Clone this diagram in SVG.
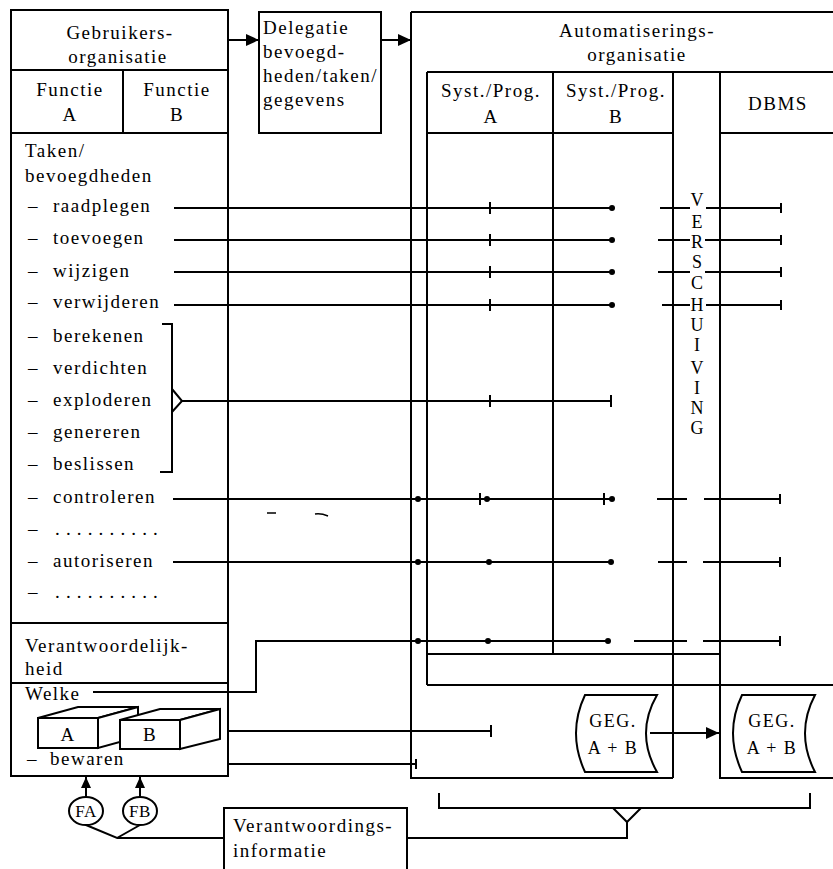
<svg xmlns="http://www.w3.org/2000/svg" width="833" height="869" viewBox="0 0 833 869">
<defs>
<style>
.ln{stroke:#000;stroke-width:2;fill:none}
.bx{stroke:#000;stroke-width:2;fill:#fff}
.t{font-family:"Liberation Serif",serif;font-size:19px;letter-spacing:1.5px;fill:#000}
.c{text-anchor:middle}
.dt{fill:#000}
.vs{font-family:"Liberation Serif",serif;font-size:18px;fill:#000;text-anchor:middle}
</style>
<marker id="ah" markerUnits="userSpaceOnUse" markerWidth="14" markerHeight="12" refX="13" refY="6" orient="auto">
<path d="M0,0 L13,6 L0,12 z" fill="#000"/>
</marker>
<marker id="ahs" markerUnits="userSpaceOnUse" markerWidth="12" markerHeight="10" refX="11" refY="5" orient="auto">
<path d="M0,0 L11,5 L0,10 z" fill="#000"/>
</marker>
</defs>
<rect width="833" height="869" fill="#fff"/>

<g id="gebruikers">
<rect class="bx" x="11" y="10" width="217" height="766"/>
<path class="ln" d="M11,70 H228 M11,133 H228 M123,70 V133 M11,623 H228 M11,683 H228"/>
<text class="t c" x="120" y="39">Gebruikers-</text>
<text class="t c" x="118" y="63">organisatie</text>
<text class="t c" x="70" y="96">Functie</text>
<text class="t c" x="70" y="121">A</text>
<text class="t c" x="177" y="96">Functie</text>
<text class="t c" x="177" y="121">B</text>
<text class="t" x="25" y="157">Taken/</text>
<text class="t" x="25" y="182">bevoegdheden</text>
<text class="t" x="28" y="212">–<tspan x="53">raadplegen</tspan></text>
<text class="t" x="28" y="244">–<tspan x="53">toevoegen</tspan></text>
<text class="t" x="28" y="277">–<tspan x="53">wijzigen</tspan></text>
<text class="t" x="28" y="308">–<tspan x="53">verwijderen</tspan></text>
<text class="t" x="28" y="342">–<tspan x="53">berekenen</tspan></text>
<text class="t" x="28" y="374">–<tspan x="53">verdichten</tspan></text>
<text class="t" x="28" y="406">–<tspan x="53">exploderen</tspan></text>
<text class="t" x="28" y="438">–<tspan x="53">genereren</tspan></text>
<text class="t" x="28" y="470">–<tspan x="53">beslissen</tspan></text>
<text class="t" x="28" y="503">–<tspan x="53">controleren</tspan></text>
<text class="t" x="28" y="535">–<tspan x="55" style="letter-spacing:0.7px">. . . . . . . . . .</tspan></text>
<text class="t" x="28" y="567">–<tspan x="53">autoriseren</tspan></text>
<text class="t" x="28" y="598">–<tspan x="55" style="letter-spacing:0.7px">. . . . . . . . . .</tspan></text>
<text class="t" x="25" y="652">Verantwoordelijk-</text>
<text class="t" x="25" y="675">heid</text>
<text class="t" x="25" y="700">Welke</text>
<text class="t" x="27" y="765">–<tspan x="50">bewaren</tspan></text>
</g>

<g id="boxA">
<polygon class="bx" points="38,718 78,707 138,707 98,718"/>
<polygon class="bx" points="98,718 138,707 138,737 98,748"/>
<rect class="bx" x="38" y="718" width="60" height="30"/>
<text class="t c" x="68" y="741">A</text>
</g>
<g id="boxB">
<polygon class="bx" points="120,720 160,709 220,709 180,720"/>
<polygon class="bx" points="180,720 220,709 220,739 180,749"/>
<rect class="bx" x="120" y="720" width="60" height="29"/>
<text class="t c" x="150" y="741">B</text>
</g>

<g id="delegatie">
<rect class="bx" x="259" y="12" width="122" height="121"/>
<text class="t" x="263" y="34">Delegatie</text>
<text class="t" x="263" y="58">bevoegd-</text>
<text class="t" x="263" y="82">heden/taken/</text>
<text class="t" x="263" y="106">gegevens</text>
</g>

<g id="automatisering">
<path class="ln" d="M411,12 H833 M411,12 V778 H673 M427,72 H833 M427,72 V685 M427,133 H673 M553,72 V654 M673,72 V778 M427,654 H720 M427,685 H833"/>
<text class="t c" x="637" y="37">Automatiserings-</text>
<text class="t c" x="637" y="61">organisatie</text>
<text class="t c" x="491" y="97">Syst./Prog.</text>
<text class="t c" x="491" y="123">A</text>
<text class="t c" x="616" y="97">Syst./Prog.</text>
<text class="t c" x="616" y="123">B</text>
</g>

<g id="verschuiving">
<text class="vs" x="697" y="206">V</text>
<text class="vs" x="697" y="228">E</text>
<text class="vs" x="697" y="248">R</text>
<text class="vs" x="697" y="268">S</text>
<text class="vs" x="697" y="289">C</text>
<text class="vs" x="697" y="311">H</text>
<text class="vs" x="697" y="331">U</text>
<text class="vs" x="697" y="351">I</text>
<text class="vs" x="697" y="374">V</text>
<text class="vs" x="697" y="394">I</text>
<text class="vs" x="697" y="414">N</text>
<text class="vs" x="697" y="434">G</text>
</g>

<g id="dbms">
<path class="ln" d="M720,72 V778 H833 M720,133 H833"/>
<text class="t c" x="778" y="110">DBMS</text>
</g>

<g id="geg-left">
<path class="bx" d="M585,695 H657 Q635,733 657,772 H585 Q567,733 585,695 Z"/>
<text class="t c" x="613" y="727" style="font-size:18px">GEG.</text>
<text class="t c" x="613" y="754" style="font-size:18px">A + B</text>
</g>
<g id="geg-right">
<path class="bx" d="M742,695 H815 Q795,733 815,772 H742 Q724,733 742,695 Z"/>
<text class="t c" x="772" y="727" style="font-size:18px">GEG.</text>
<text class="t c" x="772" y="754" style="font-size:18px">A + B</text>
</g>

<g id="verantwoordings">
<path class="bx" d="M224,869 V808 H407 V869"/>
<text class="t" x="233" y="832">Verantwoordings-</text>
<text class="t" x="233" y="857">informatie</text>
</g>

<g id="fa">
<ellipse class="bx" cx="86" cy="811" rx="17" ry="14"/>
<text class="t c" x="86" y="817" style="font-size:17px;letter-spacing:0.5px">FA</text>
</g>
<g id="fb">
<ellipse class="bx" cx="140" cy="811" rx="17" ry="14"/>
<text class="t c" x="140" y="817" style="font-size:17px;letter-spacing:0.5px">FB</text>
</g>

<g id="connectors">
<path class="ln" d="M229,40 H259" marker-end="url(#ah)"/>
<path class="ln" d="M381,40 H411" marker-end="url(#ah)"/>
<path class="ln" d="M650,733 H719" marker-end="url(#ah)"/>
<path class="ln" d="M86,797 V777" marker-end="url(#ahs)"/>
<path class="ln" d="M140,797 V777" marker-end="url(#ahs)"/>

<path class="ln" d="M174,208 H612 M490,202 V214 M660,208 H690 M706,208 H781 M781,203 V213"/>
<path class="ln" d="M174,240 H612 M490,234 V246 M658,240 H690 M705,240 H781 M781,235 V245"/>
<path class="ln" d="M174,272 H612 M490,266 V278 M658,272 H690 M705,272 H781 M781,267 V277"/>
<path class="ln" d="M174,305 H612 M490,299 V311 M662,305 H690 M706,305 H781 M781,300 V310"/>
<circle class="dt" cx="612" cy="208" r="3"/>
<circle class="dt" cx="612" cy="240" r="3"/>
<circle class="dt" cx="612" cy="272" r="3"/>
<circle class="dt" cx="612" cy="305" r="3"/>

<path class="ln" d="M162,324 H172 V472 H160 M172,389 L182,401 L172,412"/>
<path class="ln" d="M182,401 H611 M490,395 V407 M611,395 V407"/>

<path class="ln" d="M173,499 H612 M480,493 V505 M604,493 V505 M657,499 H687 M704,499 H780 M780,494 V504"/>
<circle class="dt" cx="418" cy="499" r="3"/>
<circle class="dt" cx="487" cy="499" r="3"/>
<circle class="dt" cx="612" cy="499" r="3"/>

<path class="ln" d="M173,562 H611 M658,562 H687 M703,562 H780 M780,557 V567"/>
<circle class="dt" cx="418" cy="562" r="3"/>
<circle class="dt" cx="489" cy="562" r="3"/>
<circle class="dt" cx="611" cy="562" r="3"/>

<path class="ln" d="M93,692 H256 V641 H608 M634,641 H687 M703,641 H780 M780,636 V646"/>
<circle class="dt" cx="418" cy="641" r="3"/>
<circle class="dt" cx="488" cy="641" r="3"/>
<circle class="dt" cx="608" cy="641" r="3"/>

<path class="ln" d="M228,731 H491 M491,725 V737"/>
<path class="ln" d="M228,764 H416 M416,759 V769"/>

<path class="ln" d="M86,825 L117,838 L140,825 M117,838 H224 M407,838 H627 V822 M613,808 L627,822 L641,808 M439,793 V808 H810 V793"/>

<path class="ln" d="M267,513 H276 M315,514 Q321,513 328,516" style="stroke-width:1.5"/>
</g>
</svg>
